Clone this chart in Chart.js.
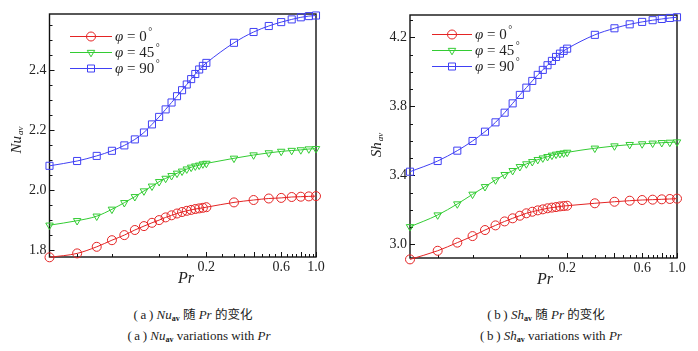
<!DOCTYPE html>
<html>
<head>
<meta charset="utf-8">
<script src="https://cdn.jsdelivr.net/npm/chart.js@4.4.1/dist/chart.umd.min.js"></script>
<style>
  body { margin: 0; background: #fff; width: 698px; height: 351px; position: relative; overflow: hidden; }
  .panel { position: absolute; top: 0; width: 349px; height: 290px; }
  .cap { position: absolute; transform: translateX(-50%); white-space: nowrap; font-family: "Liberation Serif", "DejaVu Serif", serif; font-size: 13px; color: #222; line-height: 16px; }
  .cap i { font-style: italic; }
  .cap sub { font-size: 8px; font-weight: bold; vertical-align: -2px; }
  .cjk { font-family: "Noto Sans CJK SC", sans-serif; font-size: 12.5px; }
</style>
</head>
<body>
<div class="panel" style="left:0"><canvas id="chartNu" width="349" height="290"></canvas></div>
<div class="panel" style="left:349px"><canvas id="chartSh" width="349" height="290"></canvas></div>

<div class="cap" style="left:193px; top:306px">(&#8201;a&#8201;) <i>Nu</i><sub>av</sub> <span class="cjk">随</span> <i>Pr</i> <span class="cjk">的变化</span></div>
<div class="cap" style="left:199px; top:328px">(&#8201;a&#8201;) <i>Nu</i><sub>av</sub> variations with <i>Pr</i></div>
<div class="cap" style="left:546px; top:306px">(&#8201;b&#8201;) <i>Sh</i><sub>av</sub> <span class="cjk">随</span> <i>Pr</i> <span class="cjk">的变化</span></div>
<div class="cap" style="left:551px; top:328px">(&#8201;b&#8201;) <i>Sh</i><sub>av</sub> variations with <i>Pr</i></div>

<script>
// Prandtl numbers (x values)
const prValues = [0.02, 0.03, 0.04, 0.05, 0.06, 0.07, 0.08, 0.09, 0.10, 0.11, 0.12, 0.13, 0.14, 0.15, 0.16, 0.17, 0.18, 0.19, 0.20,
                  0.3, 0.4, 0.5, 0.6, 0.7, 0.8, 0.9, 1.0];

// Nu_av for each angle
const nu0 = [1.776, 1.789, 1.811, 1.833, 1.850, 1.867, 1.880, 1.891, 1.900, 1.909, 1.916, 1.922, 1.927, 1.931, 1.934, 1.937, 1.939, 1.941, 1.943,
             1.959, 1.967, 1.972, 1.974, 1.977, 1.978, 1.979, 1.980];
const nu45 = [1.883, 1.898, 1.913, 1.936, 1.958, 1.978, 1.997, 2.013, 2.028, 2.039, 2.048, 2.056, 2.063, 2.070, 2.076, 2.080, 2.083, 2.087, 2.089,
              2.106, 2.117, 2.124, 2.129, 2.132, 2.134, 2.137, 2.138];
const nu90 = [2.081, 2.097, 2.114, 2.131, 2.149, 2.169, 2.192, 2.219, 2.244, 2.269, 2.292, 2.313, 2.333, 2.352, 2.370, 2.387, 2.402, 2.414, 2.424,
              2.491, 2.527, 2.547, 2.560, 2.569, 2.576, 2.580, 2.582];

// Sh_av for each angle
const sh0 = [2.913, 2.963, 3.010, 3.048, 3.083, 3.110, 3.133, 3.151, 3.166, 3.180, 3.189, 3.197, 3.203, 3.209, 3.213, 3.216, 3.220, 3.222, 3.224,
             3.238, 3.247, 3.253, 3.257, 3.259, 3.261, 3.263, 3.265];
const sh45 = [3.102, 3.170, 3.234, 3.290, 3.334, 3.373, 3.404, 3.427, 3.450, 3.466, 3.479, 3.491, 3.500, 3.508, 3.516, 3.522, 3.526, 3.529, 3.533,
              3.557, 3.570, 3.578, 3.582, 3.586, 3.589, 3.591, 3.593];
const sh90 = [3.421, 3.483, 3.543, 3.599, 3.653, 3.707, 3.763, 3.817, 3.866, 3.908, 3.947, 3.982, 4.011, 4.038, 4.063, 4.086, 4.105, 4.121, 4.134,
              4.214, 4.252, 4.275, 4.289, 4.299, 4.306, 4.312, 4.316];

const seriesNames = ['0', '45', '90'];

// axis ticks
const xMajorTicks = [0.2, 0.4, 0.6, 0.8, 1.0];
const xMinorTicks = [0.03, 0.05, 0.1, 0.15, 0.25, 0.3, 0.35, 0.45, 0.5, 0.55, 0.65, 0.7, 0.75, 0.85, 0.9, 0.95];
const xTickLabels = [0.2, 0.6, 1.0];
const nuMajorTicks = [1.8, 2.0, 2.2, 2.4];
const shMajorTicks = [3.0, 3.4, 3.8, 4.2];

const RED = '#e42424', GREEN = '#33cc33', BLUE = '#4040f4';
const SERIF = "'Liberation Serif', 'DejaVu Serif', serif";

function toPoints(ys) {
    return prValues.map((p, i) => ({ x: p, y: ys[i] }));
}

function makeDatasets(y0, y45, y90) {
    const common = { borderWidth: 1, pointBorderWidth: 1, pointBackgroundColor: 'rgba(0,0,0,0)', cubicInterpolationMode: 'monotone', clip: false };
    return [
        Object.assign({ data: toPoints(y0), borderColor: RED, pointBorderColor: RED, pointStyle: 'circle', pointRadius: 4.5 }, common),
        Object.assign({ data: toPoints(y45), borderColor: GREEN, pointBorderColor: GREEN, pointStyle: 'triangle', pointRotation: 180, pointRadius: 4.3 }, common),
        Object.assign({ data: toPoints(y90), borderColor: BLUE, pointBorderColor: BLUE, pointStyle: 'rect', pointRadius: 5 }, common)
    ];
}

function drawMarker(ctx, style, x, y, color) {
    ctx.save();
    ctx.strokeStyle = color;
    ctx.lineWidth = 1;
    ctx.beginPath();
    if (style === 'circle') {
        ctx.arc(x, y, 4.5, 0, Math.PI * 2);
    } else if (style === 'triangle') {
        const r = 4.3;
        ctx.moveTo(x, y + r);
        ctx.lineTo(x - r * 0.866, y - r / 2);
        ctx.lineTo(x + r * 0.866, y - r / 2);
        ctx.closePath();
    } else {
        ctx.rect(x - 3.5, y - 3.5, 7, 7);
    }
    ctx.stroke();
    ctx.restore();
}

// box, inward ticks, titles and legend drawn on top of the scales
const frame = {
    id: 'frame',
    beforeDatasetsDraw(chart, args, opts) {
        const { ctx, chartArea: a } = chart;
        const xs = chart.scales.x, ys = chart.scales.y;
        ctx.save();
        ctx.strokeStyle = '#111';
        ctx.lineWidth = 1;
        // minor/major ticks on x axis (inward)
        xMinorTicks.forEach(v => {
            const px = Math.round(xs.getPixelForValue(v)) + 0.5;
            ctx.beginPath(); ctx.moveTo(px, a.bottom); ctx.lineTo(px, a.bottom - 3); ctx.stroke();
        });
        xMajorTicks.forEach(v => {
            const px = Math.round(xs.getPixelForValue(v)) + 0.5;
            ctx.beginPath(); ctx.moveTo(px, a.bottom); ctx.lineTo(px, a.bottom - 5); ctx.stroke();
        });
        // y ticks
        for (let v = opts.yMinorStart; v <= ys.max; v += opts.yMinorStep) {
            const py = Math.round(ys.getPixelForValue(v)) + 0.5;
            const major = opts.yMajor.some(m => Math.abs(m - v) < 1e-6);
            ctx.beginPath(); ctx.moveTo(a.left, py); ctx.lineTo(a.left + (major ? 5 : 3), py); ctx.stroke();
        }
        // box
        ctx.lineWidth = 1.4;
        ctx.strokeRect(a.left, a.top, a.right - a.left, a.bottom - a.top);
        ctx.restore();
    },
    afterDraw(chart, args, opts) {
        const { ctx } = chart;
        ctx.save();
        ctx.fillStyle = '#222';
        // y title (rotated, italic with subscript)
        ctx.translate(opts.yTitleX, opts.yTitleY);
        ctx.rotate(-Math.PI / 2);
        ctx.font = 'italic 15px ' + SERIF;
        const w1 = ctx.measureText(opts.yTitle).width;
        ctx.font = 'italic 9px ' + SERIF;
        const w2 = ctx.measureText('av').width;
        const start = -(w1 + w2 + 1) / 2;
        ctx.textBaseline = 'middle';
        ctx.font = 'italic 15px ' + SERIF;
        ctx.fillText(opts.yTitle, start, 0);
        ctx.font = 'italic 9px ' + SERIF;
        ctx.fillText('av', start + w1 + 1, 4);
        ctx.restore();

        // x title
        ctx.save();
        ctx.fillStyle = '#222';
        ctx.font = 'italic 16px ' + SERIF;
        ctx.textAlign = 'center';
        ctx.textBaseline = 'middle';
        ctx.fillText('Pr', opts.xTitleX, opts.xTitleY);
        ctx.restore();

        // legend
        const styles = ['circle', 'triangle', 'rect'];
        const colors = [RED, GREEN, BLUE];
        const lg = opts.legend;
        seriesNames.forEach((name, i) => {
            const y = lg.y + i * 16;
            ctx.save();
            ctx.strokeStyle = colors[i];
            ctx.lineWidth = 1;
            ctx.beginPath(); ctx.moveTo(lg.x0, y + 0.5); ctx.lineTo(lg.x1, y + 0.5); ctx.stroke();
            drawMarker(ctx, styles[i], (lg.x0 + lg.x1) / 2, y + 0.5, colors[i]);
            ctx.fillStyle = '#222';
            ctx.textBaseline = 'middle';
            let tx = lg.x1 + 3;
            ctx.font = 'italic 15px ' + SERIF;
            ctx.fillText('\u03c6', tx, y + 1);
            tx += ctx.measureText('\u03c6').width;
            ctx.font = '15px ' + SERIF;
            const body = ' = ' + name;
            ctx.fillText(body, tx, y + 1);
            tx += ctx.measureText(body).width + 1.5;
            ctx.font = '10px ' + SERIF;
            ctx.fillText('\u00b0', tx, y - 4);
            ctx.restore();
        });
    }
};

function makeChart(id, datasets, cfg) {
    return new Chart(document.getElementById(id), {
        type: 'line',
        data: { datasets: datasets },
        options: {
            responsive: false,
            animation: false,
            layout: { padding: { top: cfg.top, right: cfg.right, left: 0, bottom: 0 } },
            plugins: {
                legend: { display: false },
                tooltip: { enabled: false },
                frame: cfg.frame
            },
            scales: {
                x: {
                    type: 'logarithmic',
                    min: 0.02,
                    max: 1.0,
                    grid: { display: false, drawTicks: false },
                    border: { display: false },
                    afterBuildTicks: s => { s.ticks = xTickLabels.map(v => ({ value: v })); },
                    afterFit: s => { s.height = cfg.xHeight; },
                    ticks: {
                        autoSkip: false, maxRotation: 0, padding: 2, color: '#222',
                        font: { family: SERIF, size: 14 },
                        callback: v => Number(v).toFixed(1)
                    }
                },
                y: {
                    min: cfg.yMin,
                    max: cfg.yMax,
                    grid: { display: false, drawTicks: false },
                    border: { display: false },
                    afterBuildTicks: s => { s.ticks = cfg.frame.yMajor.map(v => ({ value: v })); },
                    afterFit: s => { s.width = cfg.yWidth; },
                    ticks: {
                        padding: 3, color: '#222',
                        font: { family: SERIF, size: 14 },
                        callback: v => Number(v).toFixed(1)
                    }
                }
            }
        },
        plugins: [frame]
    });
}

makeChart('chartNu', makeDatasets(nu0, nu45, nu90), {
    top: 14, right: 33, xHeight: 33, yWidth: 49.5, yMin: 1.777, yMax: 2.587,
    frame: {
        yMajor: nuMajorTicks, yMinorStart: 1.8, yMinorStep: 0.05,
        yTitle: 'Nu', yTitleX: 17, yTitleY: 140,
        xTitleX: 186, xTitleY: 279,
        legend: { x0: 70, x1: 112, y: 36 }
    }
});

makeChart('chartSh', makeDatasets(sh0, sh45, sh90), {
    top: 15, right: 21, xHeight: 32, yWidth: 61, yMin: 2.921, yMax: 4.329,
    frame: {
        yMajor: shMajorTicks, yMinorStart: 3.0, yMinorStep: 0.1,
        yTitle: 'Sh', yTitleX: 28, yTitleY: 145,
        xTitleX: 196, xTitleY: 280,
        legend: { x0: 83, x1: 123, y: 34 }
    }
});
</script>
</body>
</html>
